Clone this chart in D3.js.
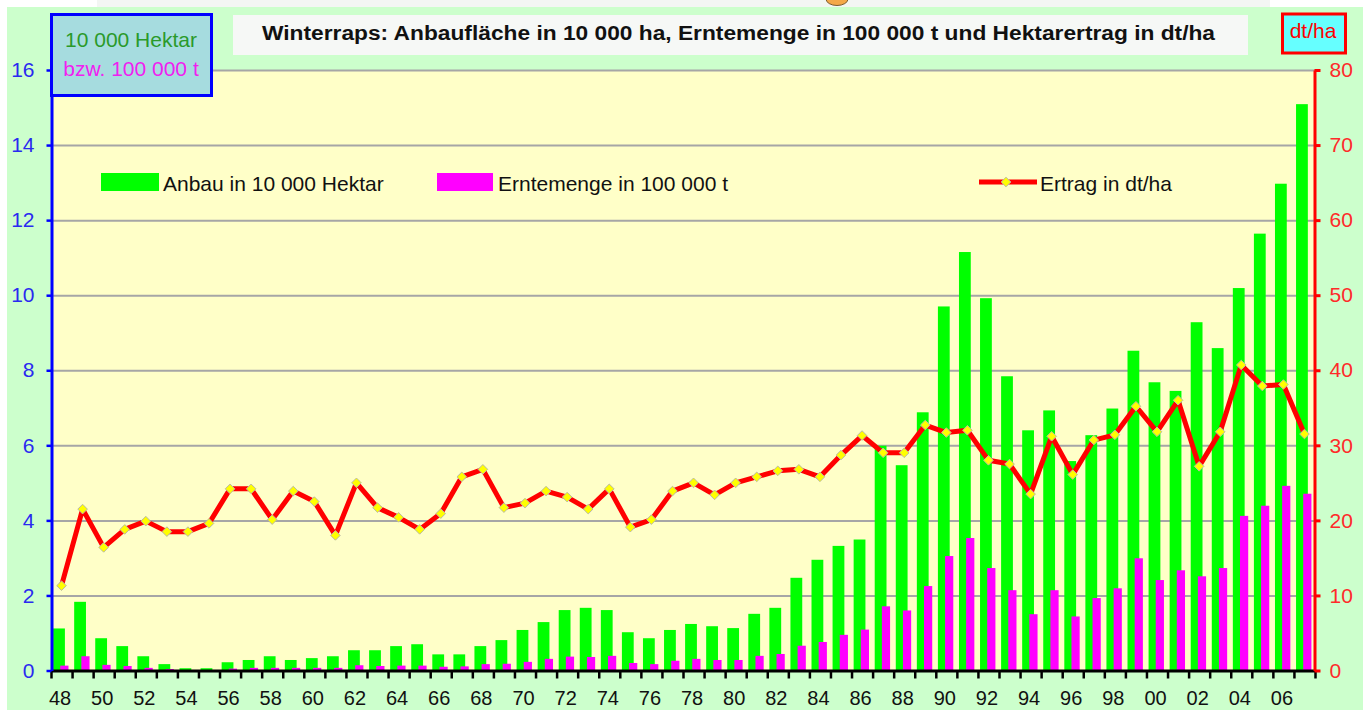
<!DOCTYPE html>
<html lang="de">
<head>
<meta charset="utf-8">
<title>Winterraps</title>
<script src="https://cdn.jsdelivr.net/npm/d3@7"></script>
<style>
  html, body { margin: 0; padding: 0; background: #ffffff; }
  svg { display: block; font-family: Arial, "Liberation Sans", sans-serif; }
</style>
</head>
<body>
<svg id="chart" width="1367" height="710"></svg>
<script>
// Erntejahre (Kategorien)
const years = [
  1948, 1949, 1950, 1951, 1952, 1953, 1954, 1955, 1956, 1957,
  1958, 1959, 1960, 1961, 1962, 1963, 1964, 1965, 1966, 1967,
  1968, 1969, 1970, 1971, 1972, 1973, 1974, 1975, 1976, 1977,
  1978, 1979, 1980, 1981, 1982, 1983, 1984, 1985, 1986, 1987,
  1988, 1989, 1990, 1991, 1992, 1993, 1994, 1995, 1996, 1997,
  1998, 1999, 2000, 2001, 2002, 2003, 2004, 2005, 2006, 2007
];

// Anbaufläche in 10 000 ha
const anbau = [
  1.12, 1.83, 0.86, 0.65, 0.38, 0.17, 0.06, 0.06, 0.22, 0.28,
  0.38, 0.28, 0.33, 0.38, 0.54, 0.54, 0.65, 0.70, 0.43, 0.43,
  0.65, 0.81, 1.08, 1.29, 1.61, 1.67, 1.61, 1.02, 0.86, 1.08,
  1.24, 1.18, 1.13, 1.51, 1.67, 2.47, 2.95, 3.32, 3.49, 5.99,
  5.47, 6.88, 9.70, 11.15, 9.92, 7.84, 6.40, 6.93, 5.58, 6.27,
  6.98, 8.52, 7.68, 7.45, 9.28, 8.59, 10.19, 11.64, 12.97, 15.09
];

// Erntemenge in 100 000 t
const ernte = [
  0.13, 0.38, 0.15, 0.12, 0.07, 0.04, 0.01, 0.01, 0.05, 0.07,
  0.07, 0.07, 0.07, 0.07, 0.14, 0.12, 0.13, 0.13, 0.10, 0.11,
  0.17, 0.18, 0.23, 0.31, 0.37, 0.36, 0.39, 0.20, 0.17, 0.26,
  0.31, 0.28, 0.28, 0.39, 0.44, 0.66, 0.76, 0.95, 1.09, 1.71,
  1.60, 2.25, 3.05, 3.53, 2.73, 2.14, 1.50, 2.14, 1.44, 1.93,
  2.19, 2.99, 2.41, 2.67, 2.51, 2.73, 4.12, 4.39, 4.92, 4.71
];

// Hektarertrag in dt/ha
const ertrag = [
  11.3, 21.5, 16.4, 18.8, 19.9, 18.5, 18.5, 19.6, 24.2, 24.2,
  20.1, 23.9, 22.5, 18.0, 25.0, 21.7, 20.4, 18.8, 20.9, 25.8,
  26.8, 21.7, 22.3, 23.9, 23.1, 21.5, 24.2, 19.1, 20.1, 23.9,
  25.0, 23.4, 25.0, 25.8, 26.6, 26.8, 25.8, 28.7, 31.3, 29.0,
  29.0, 32.7, 31.7, 32.0, 28.0, 27.5, 23.5, 31.2, 26.1, 30.7,
  31.4, 35.2, 31.8, 36.0, 27.2, 31.8, 40.7, 37.9, 38.1, 31.5
];

// Achsbeschriftungen
const leftTicks = [0, 2, 4, 6, 8, 10, 12, 14, 16];
const rightTicks = [0, 10, 20, 30, 40, 50, 60, 70, 80];
const xLabelYears = [
  1948, 1950, 1952, 1954, 1956, 1958, 1960, 1962, 1964, 1966,
  1968, 1970, 1972, 1974, 1976, 1978, 1980, 1982, 1984, 1986,
  1988, 1990, 1992, 1994, 1996, 1998, 2000, 2002, 2004, 2006
];

const svg = d3.select("#chart");

// Rahmen des Diagrammbereichs
const plot = { left: 51, right: 1315, top: 70, bottom: 670.5 };

const x = d3.scaleBand().domain(years).range([plot.left, plot.right]).paddingInner(0).paddingOuter(0);
const bw = x.bandwidth();
const xi = d3.scaleLinear().domain([0, years.length]).range([plot.left, plot.right]);
const yL = d3.scaleLinear().domain([0, 16]).range([plot.bottom, plot.top]);
const yR = d3.scaleLinear().domain([0, 80]).range([plot.bottom, plot.top]);

// Hintergrund
svg.append("rect").attr("x", 0).attr("y", 0).attr("width", 1367).attr("height", 710).attr("fill", "#ffffff");
svg.append("rect").attr("x", 97).attr("y", 0).attr("width", 1173).attr("height", 7).attr("fill", "#f3f6f3");
svg.append("ellipse").attr("cx", 837).attr("cy", -1).attr("rx", 11).attr("ry", 6.5)
  .attr("fill", "#f4a848").attr("stroke", "#7a5a30").attr("stroke-width", 1);
svg.append("rect").attr("x", 7).attr("y", 7).attr("width", 1356).attr("height", 703).attr("fill", "#ccffcc");
svg.append("rect").attr("x", plot.left).attr("y", plot.top)
  .attr("width", plot.right - plot.left).attr("height", plot.bottom - plot.top).attr("fill", "#ffffc8");

// Gitternetzlinien
const grid = svg.append("g").attr("transform", `translate(${plot.left},0)`)
  .call(d3.axisLeft(yL).tickValues(leftTicks.slice(1)).tickSize(-(plot.right - plot.left)).tickFormat(""));
grid.select(".domain").remove();
grid.selectAll(".tick line").attr("stroke", "#a6a6a6").attr("stroke-width", 2);

// Säulen
const rows = years.map((yr, i) => ({ year: yr, anbau: anbau[i], ernte: ernte[i], ertrag: ertrag[i] }));

svg.append("g").selectAll("rect").data(rows).join("rect")
  .attr("x", d => x(d.year) + 0.10 * bw)
  .attr("width", 0.56 * bw)
  .attr("y", d => yL(d.anbau))
  .attr("height", d => yL(0) - yL(d.anbau))
  .attr("fill", "#00ff00");

svg.append("g").selectAll("rect").data(rows).join("rect")
  .attr("x", d => x(d.year) + 0.44 * bw)
  .attr("width", 0.39 * bw)
  .attr("y", d => yL(d.ernte))
  .attr("height", d => yL(0) - yL(d.ernte))
  .attr("fill", "#ff00ff");

// x-Achse: Teilstriche an den Kategoriegrenzen
const xAxis = svg.append("g").attr("transform", `translate(0,${plot.bottom})`)
  .call(d3.axisBottom(xi).tickValues(d3.range(years.length + 1)).tickSize(8).tickSizeOuter(0).tickFormat(""));
xAxis.select(".domain").attr("stroke", "#000").attr("stroke-width", 3);
xAxis.selectAll(".tick line").attr("stroke", "#000").attr("stroke-width", 2.5);

// x-Achse: Jahreszahlen
const xLab = svg.append("g").attr("transform", `translate(0,${plot.bottom})`)
  .call(d3.axisBottom(x).tickValues(xLabelYears).tickSize(0).tickPadding(20)
    .tickFormat(d => String(d).slice(2)));
xLab.select(".domain").remove();
xLab.selectAll("text").attr("font-size", 20).attr("font-family", "Arial, 'Liberation Sans', sans-serif")
  .attr("fill", "#111").attr("dx", -1.5);

// linke Achse
const left = svg.append("g").attr("transform", `translate(${plot.left + 0.5},0)`)
  .call(d3.axisLeft(yL).tickValues(leftTicks).tickSize(5).tickSizeOuter(0).tickPadding(12));
left.select(".domain").attr("stroke", "#0000ff").attr("stroke-width", 3);
left.selectAll(".tick line").attr("stroke", "#0000ff").attr("stroke-width", 2.5);
left.selectAll("text").attr("font-size", 21).attr("font-family", "Arial, 'Liberation Sans', sans-serif")
  .attr("fill", "#2a2af0");

// rechte Achse
const right = svg.append("g").attr("transform", `translate(${plot.right - 0.5},0)`)
  .call(d3.axisRight(yR).tickValues(rightTicks).tickSize(6).tickSizeOuter(0).tickPadding(9));
right.select(".domain").attr("stroke", "#ff0000").attr("stroke-width", 3);
right.selectAll(".tick line").attr("stroke", "#ff0000").attr("stroke-width", 3);
right.selectAll("text").attr("font-size", 21).attr("font-family", "Arial, 'Liberation Sans', sans-serif")
  .attr("fill", "#ff2a2a");

// Ertragslinie mit Rautenmarkern
const line = d3.line().x(d => x(d.year) + bw / 2).y(d => yR(d.ertrag));
svg.append("path").datum(rows).attr("d", line)
  .attr("fill", "none").attr("stroke", "#ff0000").attr("stroke-width", 5)
  .attr("stroke-linejoin", "round");

const diamond = "M0,-4.8L4.8,0L0,4.8L-4.8,0Z";
svg.append("g").selectAll("path").data(rows).join("path")
  .attr("d", diamond)
  .attr("transform", d => `translate(${x(d.year) + bw / 2},${yR(d.ertrag)})`)
  .attr("fill", "#ffff00").attr("stroke", "#b8b8a8").attr("stroke-width", 1);

// Legende
const legend = svg.append("g").attr("font-size", 21).attr("fill", "#111");
legend.append("rect").attr("x", 101).attr("y", 173).attr("width", 58).attr("height", 18).attr("fill", "#00ff00");
legend.append("text").attr("x", 163).attr("y", 190.5).text("Anbau in 10 000 Hektar");
legend.append("rect").attr("x", 437).attr("y", 173).attr("width", 56).attr("height", 18).attr("fill", "#ff00ff");
legend.append("text").attr("x", 498).attr("y", 190.5).text("Erntemenge in 100 000 t");
legend.append("line").attr("x1", 979).attr("x2", 1037).attr("y1", 182).attr("y2", 182)
  .attr("stroke", "#ff0000").attr("stroke-width", 5);
legend.append("path").attr("d", diamond).attr("transform", "translate(1006,182)")
  .attr("fill", "#ffff00").attr("stroke", "#b8b8a8").attr("stroke-width", 1);
legend.append("text").attr("x", 1040).attr("y", 190.5).text("Ertrag in dt/ha");

// Titel
svg.append("rect").attr("x", 233).attr("y", 15).attr("width", 1015).attr("height", 40).attr("fill", "#f6f8f6");
svg.append("text").attr("x", 262).attr("y", 39.5)
  .attr("font-size", 20).attr("font-weight", "bold").attr("fill", "#111")
  .attr("textLength", 953).attr("lengthAdjust", "spacingAndGlyphs")
  .text("Winterraps: Anbaufläche in 10 000 ha, Erntemenge in 100 000 t und Hektarertrag in dt/ha");

// Einheiten der linken Achse
svg.append("rect").attr("x", 51.5).attr("y", 14.5).attr("width", 160).attr("height", 81)
  .attr("fill", "#a6dcdf").attr("stroke", "#0000ff").attr("stroke-width", 3);
svg.append("text").attr("x", 131).attr("y", 47).attr("text-anchor", "middle")
  .attr("font-size", 21).attr("fill", "#2a9a2a").text("10 000 Hektar");
svg.append("text").attr("x", 131).attr("y", 76).attr("text-anchor", "middle")
  .attr("font-size", 21).attr("fill", "#f020f0").text("bzw. 100 000 t");

// Einheit der rechten Achse
svg.append("rect").attr("x", 1282.5).attr("y", 14).attr("width", 63).attr("height", 39)
  .attr("fill", "#66ffff").attr("stroke", "#ff0000").attr("stroke-width", 3);
svg.append("text").attr("x", 1313).attr("y", 38).attr("text-anchor", "middle")
  .attr("font-size", 21).attr("fill", "#ff0000").text("dt/ha");
</script>
</body>
</html>
